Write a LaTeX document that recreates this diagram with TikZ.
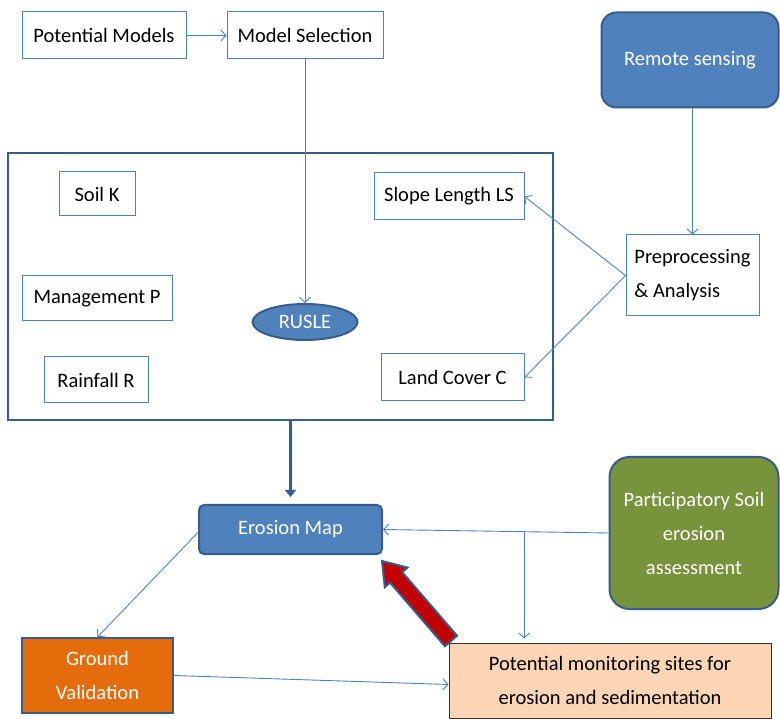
\documentclass[tikz,border=0pt]{standalone}
\usepackage{fontspec}
\setmainfont{Carlito}
\usetikzlibrary{
    arrows.meta,
    shapes.geometric,
    calc
}
\definecolor{boxblue}{HTML}{4F81BD}
\definecolor{edgeblue}{HTML}{385D8A}
\definecolor{leafgreen}{HTML}{77933C}
\definecolor{groundorange}{HTML}{E46C0A}
\definecolor{siteskin}{HTML}{FCD5B5}
\definecolor{alarmred}{HTML}{C00000}
\tikzset {
    plain box/.style = {draw = boxblue, fill = white, line width = 1pt,
        inner sep = 0pt, text = black, align = center},
    solid box/.style = {draw = edgeblue, line width = 2pt, inner sep = 0pt,
        text = white, align = center},
    frame box/.style = {draw = edgeblue, line width = 2pt, inner sep = 0pt},
    link/.style = {draw = boxblue, line width = 0.9pt,
        -{Straight Barb[length = 5pt, width = 11pt]}},
    heavy link/.style = {draw = edgeblue, line width = 3pt,
        -{Triangle[length = 7pt, width = 11pt]}},
    %
    block arrow/.style = {draw = edgeblue, line width = 2pt, fill = alarmred,
        line join = miter}
}

\begin{document}
\begin{tikzpicture}[x = 1pt, y = -1pt,
        every node/.style = {font = \fontsize{20.5}{34}\selectfont}]
    \useasboundingbox (0, 0) rectangle (780, 719);
    % top row
    \node [plain box, minimum width = 164pt, minimum height = 47pt] (models) at (104, 35.5) {Potential Models};
    \node [plain box, minimum width = 156pt, minimum height = 47pt] (select) at (305, 35.5) {Model Selection};
    \node [solid box, fill = boxblue, rounded corners = 15pt, minimum width = 177pt, minimum height = 95pt] (remote) at (690, 60) {Remote sensing};
    % RUSLE frame
    \node [frame box, minimum width = 545pt, minimum height = 267pt] (frame) at (280.5, 286.5) {};
    \node [plain box, minimum width = 76pt, minimum height = 44pt] (soil) at (97, 194) {Soil K};
    \node [plain box, minimum width = 150pt, minimum height = 45pt] (mgmt) at (97, 298.5) {Management P};
    \node [plain box, minimum width = 104pt, minimum height = 46pt] (rain) at (96, 380) {Rainfall R};
    \node [plain box, minimum width = 150pt, minimum height = 47pt] (slope) at (449, 196.5) {Slope Length LS};
    \node [plain box, minimum width = 143pt, minimum height = 47pt] (land) at (452.5, 377.5) {Land Cover C};
    \node [ellipse, solid box, fill = boxblue, minimum width = 105pt, minimum height = 36pt] (rusle) at (305, 322) {RUSLE};
    \node [plain box, align = left, minimum width = 133pt, minimum height = 81pt] (prep) at (692.5, 275.5) {Preprocessing\\\& Analysis};
    % lower part
    \node [solid box, fill = boxblue, rounded corners = 5pt, minimum width = 183pt, minimum height = 49pt] (erosion) at (290.5, 529.5) {Erosion Map};
    \node [solid box, fill = leafgreen, rounded corners = 20pt, minimum width = 169pt, minimum height = 152pt] (partic) at (694, 533) {Participatory Soil\\erosion\\assessment};
    \node [solid box, fill = groundorange, minimum width = 151pt, minimum height = 75pt] (ground) at (97.5, 675.5) {Ground\\Validation};
    \node [solid box, fill = siteskin, draw = black!80, line width = 1pt, text = black, minimum width = 322pt, minimum height = 75pt] (sites) at (610, 680.5) {Potential monitoring sites for\\erosion and sedimentation};
    % connectors
    \draw [link] (models) -- (select);
    \draw [link] (select) -- (rusle);
    \draw [link] (prep.north |- remote.south) -- (prep.north);
    \draw [link] (prep.west) -- (slope.east);
    \draw [link] (prep.west) -- (land.east);
    \draw [heavy link, shorten > = 7pt] (erosion.north |- frame.south) -- (erosion.north);
    \draw [link] (partic.west) -- (erosion.east);
    \coordinate (split) at ($(partic.west)!0.374!(erosion.east)$);
    \draw [link, shorten > = 4pt] (split) -- (split |- sites.north);
    \draw [link] ([yshift = -3pt]erosion.west) -- (ground.north);
    \draw [link] (ground.east) -- ([yshift = -4pt]sites.west);
    % red block arrow
    \coordinate (tail) at (451, 641);
    \coordinate (tip) at (382, 561);
    \coordinate (neck) at ($(tail)!84pt!(tip)$);
    \draw [block arrow] ($(tail)!8pt!90:(tip)$) -- ($(neck)!8pt!90:(tip)$)
        -- ($(neck)!15pt!90:(tip)$) -- (tip) -- ($(neck)!15pt!-90:(tip)$)
        -- ($(neck)!8pt!-90:(tip)$) -- ($(tail)!8pt!-90:(tip)$) -- cycle;
\end{tikzpicture}
\end{document}
